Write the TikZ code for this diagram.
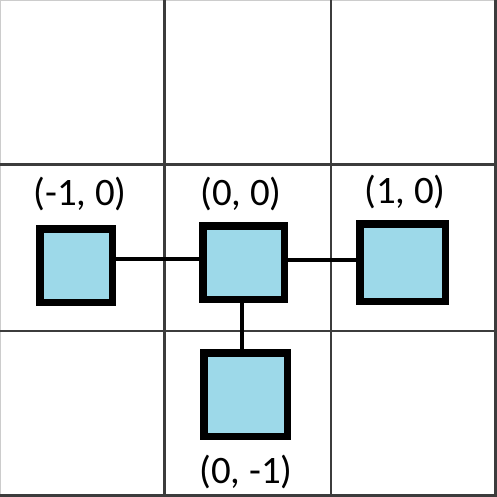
\documentclass[tikz,border=0pt]{standalone}
\usepackage{fontspec}
\setmainfont{Carlito}
\definecolor{cellblue}{RGB}{157,217,233}
\definecolor{gridgray}{RGB}{60,60,60}
\begin{document}
\begin{tikzpicture}[x=1bp,y=-1bp,
  gridline/.style={draw=gridgray,line width=2.5bp},
  cell/.style={draw=black,fill=cellblue,line width=7.5bp,inner sep=0pt},
  link/.style={draw=black,line width=4bp},
  coordlabel/.style={font=\fontsize{39}{45}\selectfont,inner sep=0pt}]
  \useasboundingbox (0,0) rectangle (497,497);
  % lattice grid
  \draw[draw=gray!40,line width=1bp] (0.5,496) -- (0.5,0.5) -- (496,0.5);
  \draw[gridline] (0,495.5) -- (495.5,495.5) -- (495.5,0);
  \draw[gridline] (164.5,0) -- (164.5,497);
  \draw[gridline] (331,0) -- (331,497);
  \draw[gridline] (0,164.5) -- (497,164.5);
  \draw[gridline] (0,331) -- (497,331);
  % sites
  \node[cell,minimum width=72.5bp,minimum height=73.5bp] (left) at (76,265.5) {};
  \node[cell,minimum width=81.5bp,minimum height=73.5bp] (center) at (243.5,262.5) {};
  \node[cell,minimum width=85.5bp,minimum height=77.5bp] (right) at (402.5,262.5) {};
  \node[cell,minimum width=83.5bp,minimum height=83.5bp] (bottom) at (245.5,394.5) {};
  % bonds
  \draw[link] (left.east|-0,259) -- (center.west|-0,259);
  \draw[link] (center.east|-0,260) -- (right.west|-0,260);
  \draw[link] (center.south-|242,0) -- (bottom.north-|242,0);
  % coordinates
  \node[coordlabel] (lleft) at (80,194) {(-1, 0)};
  \node[coordlabel] (lcenter) at (241,194) {(0, 0)};
  \node[coordlabel] (lright) at (405,192) {(1, 0)};
  \node[coordlabel] (lbottom) at (246,471.5) {(0, -1)};
\end{tikzpicture}
\end{document}
